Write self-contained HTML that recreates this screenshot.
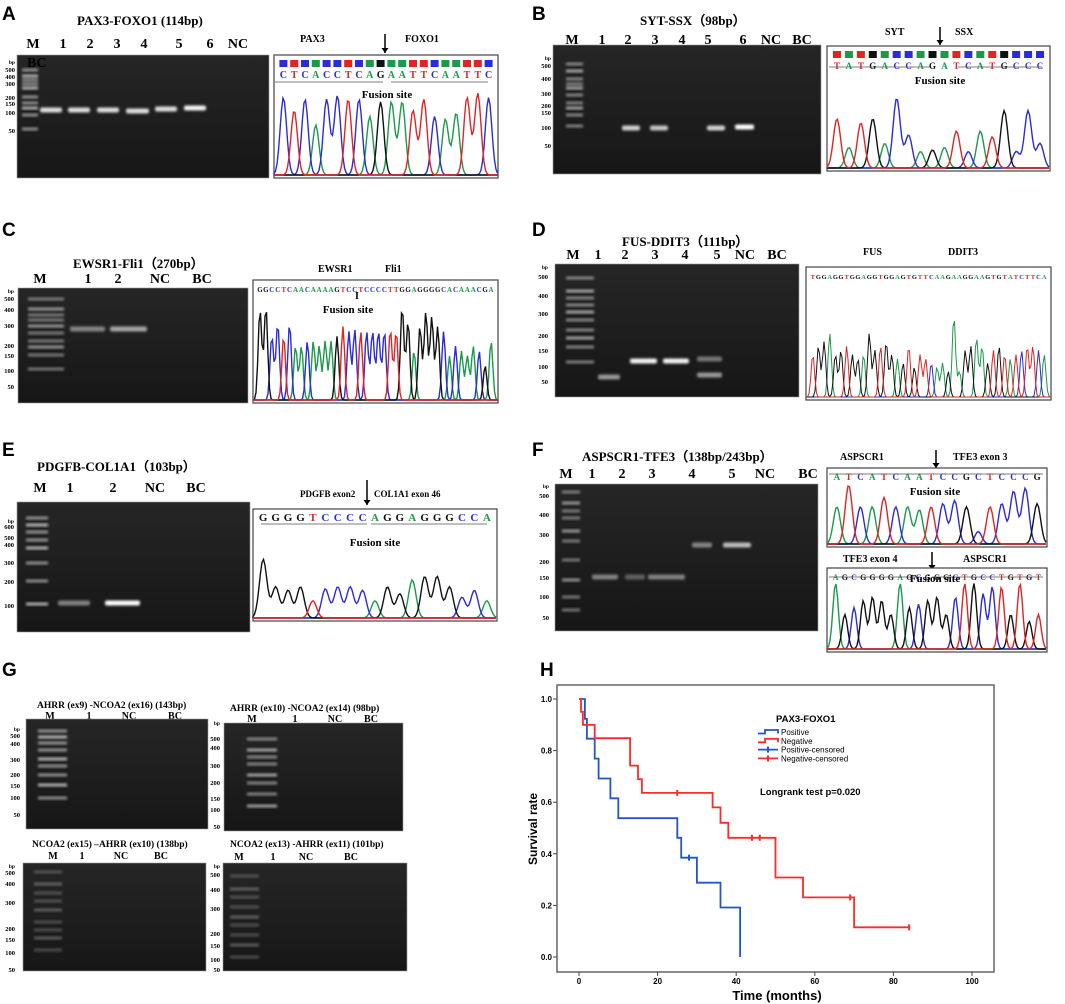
<!DOCTYPE html>
<html><head><meta charset="utf-8"><style>
html,body{margin:0;padding:0;background:#fff;}
svg{display:block;}
.t{font-family:"Liberation Serif",serif;font-weight:bold;}
.s{font-family:"Liberation Sans",sans-serif;}
</style></head><body>
<svg id="fig" width="1065" height="1004" viewBox="0 0 1065 1004" xmlns="http://www.w3.org/2000/svg">
<defs><filter id="bl" x="-20%" y="-50%" width="140%" height="200%"><feGaussianBlur stdDeviation="1.2"/></filter>
<linearGradient id="gg" x1="0" y1="0" x2="0" y2="1"><stop offset="0" stop-color="#262626"/><stop offset="1" stop-color="#161616"/></linearGradient></defs>
</svg>
<script>
// ---- Kaplan-Meier data (panel H) ----
const posTimes=[1.5,2,4,5,8,10,25,26,30,36,41];
const posSurv=[0.923,0.846,0.769,0.692,0.615,0.538,0.462,0.385,0.288,0.192,0];
const posCensT=[28];
const posCensS=[0.385];
const negTimes=[0.5,1,4,13,15,16,34,36,38,50,57,70];
const negSurv=[0.95,0.9,0.848,0.742,0.689,0.636,0.58,0.52,0.462,0.308,0.231,0.115];
const negCensT=[25,44,46,69,84];
const negCensS=[0.636,0.462,0.462,0.231,0.115];
const xTicks=[0,20,40,60,80,100];
const yTicks=[0,0.2,0.4,0.6,0.8,1.0];

const NS="http://www.w3.org/2000/svg";
const fig=document.getElementById('fig');
function el(tag,attrs,parent){const e=document.createElementNS(NS,tag);for(const k in attrs)e.setAttribute(k,attrs[k]);(parent||fig).appendChild(e);return e;}
function txt(x,y,s,size,cls,extra){const e=el('text',Object.assign({x:x,y:y,'font-size':size,class:cls||'t'},extra||{}));e.textContent=s;return e;}

// panel letters
[['A',2,20],['B',532,20],['C',2,236],['D',532,236],['E',2,456],['F',532,456],['G',2,676],['H',540,676]].forEach(p=>{
 const e=txt(p[1],p[2],p[0],19,'s',{'font-weight':'bold'});
 
 
});

// gel drawing
function gel(name,x,y,w,h,ladX,ladW,ladYs,bands,bp,bpX,ladOp){
 ladOp=ladOp||0.6;
 const g=el('g',{});
 
 
 el('rect',{x:x,y:y,width:w,height:h,fill:'url(#gg)',stroke:'#999','stroke-width':0.6},g);
 ladYs.forEach((ly,i)=>{const r=el('rect',{x:ladX,y:ly-1.5,width:ladW,height:3,fill:'#fff',opacity:(i%3==1?ladOp*1.3:ladOp),filter:'url(#bl)'},g);
  
  });
 bands.forEach(b=>{const r=el('rect',{x:b[0],y:b[2]-2.5,width:b[1],height:5,rx:2,fill:'#fff',opacity:b[3],filter:'url(#bl)'},g);
  
  });
 bp.forEach(b=>{const e=el('text',{x:bpX,y:b[1]+2,'font-size':b[0]=='bp'?5.5:6.5,class:'t','text-anchor':'end'},g);e.textContent=b[0];});
}
function labels(list,y,size){list.forEach(l=>{const e=txt(l[1],y,l[0],size||15,'t',{'text-anchor':'middle'});
 
 });}

// chromatogram
const COL={A:'#1a9a4a',C:'#2b2bd8',G:'#111',T:'#e02424'};
function chrom(name,x,y,w,h,seq,hts,opt){
 opt=opt||{};
 const g=el('g',{});
 
 
 el('rect',{x:x,y:y,width:w,height:h,fill:'#fff',stroke:'#444','stroke-width':1.2},g);
 const n=seq.length, sp=(w-8)/n, base=y+h-3, top=y+(opt.top||36);
 for(let i=0;i<n;i++){const c=seq[i],cx=x+4+sp*(i+0.5);
  if(opt.sq){el('rect',{x:cx-4,y:y+5,width:8,height:7,fill:COL[c]},g);}
  const t=el('text',{x:cx,y:y+(opt.sq?23:12),'font-size':opt.fs||10,fill:COL[c],'text-anchor':'middle',class:'t'},g);t.textContent=c;}
 'ACGT'.split('').forEach(b=>{let d='M'+x+' '+base;
  for(let px=0;px<=w;px+=1.5){let v=0;for(let i=0;i<n;i++){if(seq[i]!=b)continue;const cx=4+sp*(i+0.5);const dx=(px-cx)/(sp*0.3);v+=hts[i]*Math.exp(-dx*dx/2);}
   d+=' L'+(x+px).toFixed(1)+' '+(base-v*(base-top)).toFixed(1);}
  const p=el('path',{d:d,fill:'none',stroke:COL[b],'stroke-width':opt.sw||1.4},g);
  
  });
 if(opt.lines){opt.lines.forEach(l=>el('line',{x1:l[0],x2:l[1],y1:l[2],y2:l[2],stroke:'#555','stroke-width':0.8},g));}
 if(opt.fusion){const e=el('text',{x:opt.fusion[0],y:opt.fusion[1],'font-size':11,class:'t','text-anchor':'middle'},g);e.textContent='Fusion site';}
}
function arrow(x,y1,y2,name){const g=el('g',{});
 el('line',{x1:x,x2:x,y1:y1,y2:y2,stroke:'#000','stroke-width':1.5},g);
 const up=y2<y1; el('path',{d:`M${x-3.5} ${y2+(up?5:-5)} L${x} ${y2} L${x+3.5} ${y2+(up?5:-5)}Z`,fill:'#000'},g);}

// ===== A =====
txt(77,25,'PAX3-FOXO1  (114bp)',13);
labels([['M',33],['1',63],['2',90],['3',117],['4',144],['5',179],['6',210],['NC',238]],48,14);
gel('gel-a',17,55,252,123,22,16,[70,76,80,84,88,97,103,108,115,129],
 [[40,22,110,0.85],[68,22,110,0.85],[97,22,110,0.85],[126,23,111,0.85],[155,22,109,0.85],[184,22,108,0.95]],
 [['bp',62],['500',70],['400',77],['300',84],['200',98],['150',104],['100',113],['50',131]],15,0.5);
txt(27,67,'BC',14);
txt(300,42,'PAX3',10);txt(405,42,'FOXO1',10);arrow(385,34,53);
chrom('chromatogram-a',274,55,224,123,'CTCACCTCAGAATTCAATTC',[0.9,0.75,0.88,0.58,0.88,0.92,0.88,0.88,0.68,0.85,0.85,0.85,0.75,0.88,0.68,0.65,0.72,0.9,0.95,0.9],{sq:1,top:34,lines:[[275,383,82],[391,488,82]],fusion:[387,98]});

// ===== B =====
txt(640,25,'SYT-SSX（98bp）',13);
labels([['M',572],['1',602],['2',628],['3',655],['4',682],['5',708],['6',743],['NC',771],['BC',802]],44,14);
gel('gel-b',553,45,268,129,566,17,[64,71,79,84,88,95,103,108,115,126],
 [[622,18,128,0.8],[650,18,128,0.75],[707,18,128,0.8],[735,19,127,1.0]],
 [['bp',58],['500',66],['400',79],['300',94],['200',106],['150',113],['100',128],['50',146]],551,0.45);
txt(885,35,'SYT',10);txt(955,35,'SSX',10);arrow(940,27,45);
chrom('chromatogram-b',827,46,223,125,'TATGACCAGATCATGCCC',[0.6,0.25,0.55,0.6,0.3,0.85,0.4,0.2,0.22,0.25,0.45,0.2,0.45,0.38,0.7,0.2,0.7,0.3],{sq:1,top:40,fs:9,lines:[[829,930,67],[958,1042,67]],fusion:[940,84]});

// ===== C =====
txt(73,268,'EWSR1-Fli1（270bp）',13);
labels([['M',40],['1',88],['2',118],['NC',160],['BC',202]],283,14);
gel('gel-c',18,288,230,115,28,36,[299,309,315,320,326,333,341,347,355,369],
 [[70,35,329,0.45],[110,37,329,0.6]],
 [['bp',291],['500',299],['400',310],['300',326],['200',346],['150',356],['100',371],['50',387]],14,0.4);
txt(318,272,'EWSR1',10);txt(385,272,'Fli1',10);
chrom('chromatogram-c',253,280,245,123,'GGCCTCAACAAAAGTCCTCCCCTTGGAGGGGCACAAACGA',[0.92,0.95,0.65,0.78,0.65,0.78,0.55,0.55,0.6,0.6,0.55,0.6,0.6,0.65,0.75,0.7,0.72,0.7,0.7,0.7,0.7,0.7,0.72,0.7,0.95,0.8,0.5,0.75,0.9,0.85,0.75,0.7,0.45,0.55,0.5,0.45,0.55,0.5,0.35,0.6],{top:22,fs:7,fusion:[348,313]});
txt(355,299,'I',10);

// ===== D =====
txt(622,246,'FUS-DDIT3（111bp）',13);
labels([['M',573],['1',598],['2',625],['3',655],['4',685],['5',717],['NC',745],['BC',777]],259,14);
gel('gel-d',555,264,244,133,566,28,[278,291,298,305,312,320,330,338,347,362],
 [[598,22,377,0.55],[630,27,361,0.95],[663,26,361,0.95],[697,25,359,0.4],[697,25,375,0.55]],
 [['bp',267],['500',277],['400',296],['300',314],['200',336],['150',351],['100',367],['50',382]],548,0.45);
txt(863,255,'FUS',10);txt(948,255,'DDIT3',10);arrow(910,300,278);
chrom('chromatogram-d',806,267,245,133,'TGGAGGTGGAGGTGGAGTGTTCAAGAAGGAAGTGTATCTTCA',[0.5,0.6,0.65,0.75,0.5,0.55,0.6,0.5,0.45,0.5,0.75,0.55,0.6,0.65,0.5,0.45,0.4,0.6,0.35,0.5,0.45,0.4,0.35,0.4,0.3,0.95,0.3,0.55,0.6,0.7,0.6,0.4,0.55,0.6,0.5,0.45,0.5,0.55,0.6,0.6,0.55,0.5],{top:45,fs:6.5,sw:1});

// ===== E =====
txt(37,471,'PDGFB-COL1A1（103bp）',13);
labels([['M',40],['1',70],['2',113],['NC',155],['BC',196]],492,14);
gel('gel-e',17,502,233,130,26,22,[518,525,532,540,548,563,581,604],
 [[58,32,603,0.45],[105,35,603,1.0]],
 [['bp',521],['600',527],['500',538],['400',545],['300',563],['200',582],['100',606]],14,0.5);
txt(300,497,'PDGFB exon2',9);txt(374,497,'COL1A1  exon 46',9);arrow(367,480,505);
chrom('chromatogram-e',253,509,244,112,'GGGGTCCCCAGGAGGGCCA',[0.85,0.45,0.4,0.45,0.25,0.42,0.45,0.45,0.4,0.25,0.45,0.35,0.55,0.6,0.6,0.45,0.3,0.4,0.25],{top:40,fs:11,lines:[[261,367,524],[371,487,524]],fusion:[375,546]});

// ===== F =====
txt(582,461,'ASPSCR1-TFE3（138bp/243bp）',13);
labels([['M',566],['1',592],['2',622],['3',652],['4',692],['5',732],['NC',765],['BC',808]],478,14);
gel('gel-f',555,484,263,147,562,18,[492,503,511,518,531,541,560,580,597,610],
 [[592,26,577,0.45],[625,20,577,0.3],[648,37,577,0.45],[692,20,545,0.45],[723,28,545,0.7]],
 [['bp',486],['500',496],['400',515],['300',535],['200',562],['150',578],['100',597],['50',618]],549,0.4);
txt(840,460,'ASPSCR1',10);txt(953,460,'TFE3  exon 3',10);arrow(936,450,468);
chrom('chromatogram-f1',827,468,220,79,'ATCATCAATCCGCTCCCG',[0.6,0.95,0.6,0.6,0.75,0.6,0.6,0.55,0.6,0.65,0.7,0.6,0.2,0.6,0.65,0.85,0.9,0.65],{top:14,fs:9,lines:[[829,928,474],[933,1043,474]],fusion:[935,495]});
txt(843,562,'TFE3  exon 4',10);txt(963,562,'ASPSCR1',10);arrow(932,552,570);
chrom('chromatogram-f2',827,568,220,84,'AGCGGGGAGCGGGCTGCCTGTGT',[0.95,0.5,0.6,0.7,0.75,0.7,0.5,0.95,0.6,0.65,0.7,0.75,0.5,0.75,0.95,0.95,0.8,0.9,0.9,0.5,0.95,0.4,0.5],{top:12,fs:8,lines:[[829,920,577],[932,1043,577]],fusion:[935,582]});

// ===== G =====
const gLad1=[731,737,743,750,759,766,775,785,798];
txt(37,708,'AHRR (ex9) -NCOA2 (ex16)   (143bp)',9.5);
labels([['M',50],['1',89],['NC',129],['BC',175]],719,10);
gel('gel-g1',26,719,182,110,38,29,gLad1,[],[['bp',729],['500',736],['400',744],['300',760],['200',775],['150',786],['100',798],['50',815]],20,0.5);
txt(230,711,'AHRR (ex10) -NCOA2 (ex14)   (98bp)',9.5);
labels([['M',252],['1',295],['NC',335],['BC',371]],722,10);
gel('gel-g2',224,723,179,108,247,30,[739,750,757,764,775,783,794,806],[],[['bp',723],['500',739],['400',748],['300',766],['200',783],['150',799],['100',810],['50',827]],220,0.45);
txt(32,847,'NCOA2 (ex15) –AHRR (ex10)   (138bp)',9.5);
labels([['M',53],['1',82],['NC',121],['BC',161]],859,10);
gel('gel-g3',23,863,183,108,34,28,[872,884,893,901,910,922,930,938,950],[],[['bp',866],['500',873],['400',884],['300',903],['200',929],['150',940],['100',953],['50',970]],15,0.22);
txt(230,847,'NCOA2 (ex13) -AHRR (ex11)   (101bp)',9.5);
labels([['M',239],['1',273],['NC',306],['BC',351]],860,10);
gel('gel-g4',223,863,184,108,230,29,[876,889,897,907,917,925,935,945,957],[],[['bp',866],['500',875],['400',890],['300',909],['200',934],['150',946],['100',960],['50',970]],220,0.22);

// ===== H: Kaplan-Meier =====
const X0=557,X1=994,Y0=685,Y1=972;
function xs(t){return 579+t*3.93;}
function ys(s){return 957-s*258;}
const frame=el('rect',{x:X0,y:Y0,width:X1-X0,height:Y1-Y0,fill:'#fff',stroke:'#666','stroke-width':1.5});


xTicks.forEach(t=>{el('line',{x1:xs(t),x2:xs(t),y1:Y1,y2:Y1+4,stroke:'#444'});
 const e=txt(xs(t),Y1+12,String(t),8,'s',{'text-anchor':'middle','font-weight':'bold'});
 
 });
yTicks.forEach(v=>{el('line',{x1:X0-4,x2:X0,y1:ys(v),y2:ys(v),stroke:'#444'});
 const e=txt(X0-5,ys(v)+3,v.toFixed(1),8,'s',{'text-anchor':'end','font-weight':'bold'});
 
 });
const xt=txt(777,1000,'Time (months)',13,'s',{'text-anchor':'middle','font-weight':'bold'});


const yt=txt(0,0,'Survival rate',12,'s',{'text-anchor':'middle','font-weight':'bold',transform:'translate(537,829) rotate(-90)'});


function step(times,surv,color,name,endT){
 let d='M'+xs(0)+' '+ys(1);
 for(let i=0;i<times.length;i++){d+=' H'+xs(times[i]).toFixed(1)+' V'+ys(surv[i]).toFixed(1);}
 if(endT!==undefined)d+=' H'+xs(endT).toFixed(1);
 const p=el('path',{d:d,fill:'none',stroke:color,'stroke-width':1.8});
 
 
}
function cens(ts,ss,color,name){ts.forEach((t,i)=>{const l=el('line',{x1:xs(t),x2:xs(t),y1:ys(ss[i])-3,y2:ys(ss[i])+3,stroke:color,'stroke-width':2});
 
 });}
step(posTimes,posSurv,'#2255cc','positive-curve');
step(negTimes,negSurv,'#ff2a2a','negative-curve',negCensT[negCensT.length-1]);
cens(posCensT,posCensS,'#2255cc','positive-censor-mark');
cens(negCensT,negCensS,'#ff2a2a','negative-censor-mark');
const lt=txt(776,722,'PAX3-FOXO1',9.5,'s',{'font-weight':'bold'});


[['Positive','#2255cc',0],['Negative','#ff2a2a',0],['Positive-censored','#2255cc',1],['Negative-censored','#ff2a2a',1]].forEach((e,i)=>{
 const y=732+i*8.8;const g=el('g',{});
 
 
 if(e[2]){el('line',{x1:758,x2:778,y1:y,y2:y,stroke:e[1],'stroke-width':1.8},g);el('line',{x1:768,x2:768,y1:y-3,y2:y+3,stroke:e[1],'stroke-width':2},g);}
 else el('path',{d:`M758 ${y+1.5} H765 V${y-2} H778 V${y+1.5}`,fill:'none',stroke:e[1],'stroke-width':1.8},g);
 const t=el('text',{x:781,y:y+3,'font-size':8,class:'s'},g);t.textContent=e[0];});
const lr=txt(760,795,'Longrank test p=0.020',9.5,'s',{'font-weight':'bold'});


</script>
</body></html>
